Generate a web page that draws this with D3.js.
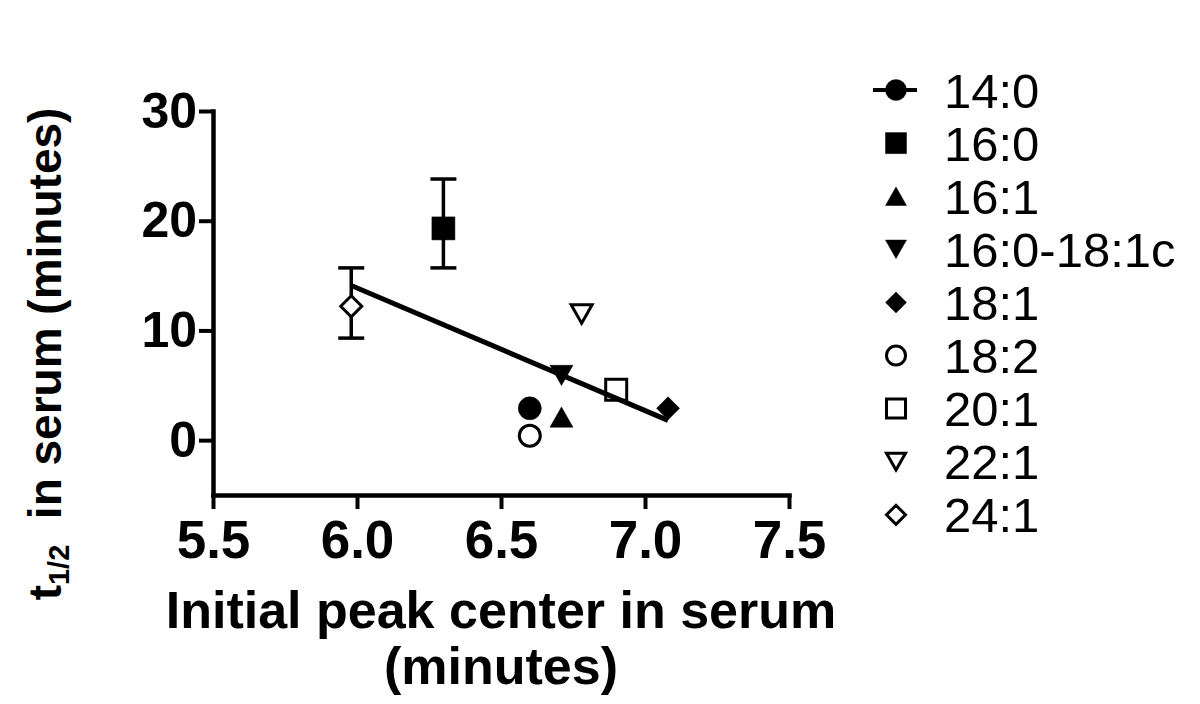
<!DOCTYPE html>
<html>
<head>
<meta charset="utf-8">
<script src="https://cdn.jsdelivr.net/npm/d3@7"></script>
<style>
  body { margin: 0; background: #fff; }
  svg { font-family: "Liberation Sans", Arial, Helvetica, sans-serif; }
</style>
</head>
<body>
<svg id="chart" width="1200" height="704"></svg>
<script>
// values
const lipids = ['14:0', '16:0', '16:1', '16:0-18:1c', '18:1', '18:2', '20:1', '22:1', '24:1'];
const peakCenter = [6.60, 6.30, 6.71, 6.71, 7.08, 6.60, 6.90, 6.78, 5.98];
const halfLife = [2.9, 19.3, 2.1, 5.9, 2.9, 0.4, 4.6, 11.5, 12.2];
const errLow = [null, 15.7, null, null, null, null, null, null, 9.3];
const errHigh = [null, 23.8, null, null, null, null, null, null, 15.7];
const shapes = ['circle', 'square', 'triangle', 'triangleDown', 'diamond', 'circle', 'square', 'triangleDown', 'diamond'];
const filled = [true, true, true, true, true, false, false, false, false];

// linear fit drawn in the figure (end points)
const fitX = [5.98, 7.08];
const fitY = [14.1, 1.8];

const xTicks = [5.5, 6.0, 6.5, 7.0, 7.5];
const yTicks = [0, 10, 20, 30];

const svg = d3.select('#chart');

const x = d3.scaleLinear().domain([5.5, 7.5]).range([213, 789]);
const y = d3.scaleLinear().domain([-5, 30]).range([495, 111]);

// marker outline, centred on 0,0
function markerPath(shape, s) {
  const h = s / 2;
  if (shape === 'circle') {
    return `M${h},0A${h},${h} 0 1,1 ${-h},0A${h},${h} 0 1,1 ${h},0Z`;
  }
  if (shape === 'square') {
    return `M${-h},${-h}H${h}V${h}H${-h}Z`;
  }
  if (shape === 'triangle') {
    const t = s * 0.44;
    return `M0,${-t}L${h},${t}L${-h},${t}Z`;
  }
  if (shape === 'triangleDown') {
    const t = s * 0.44;
    return `M0,${t}L${h},${-t}L${-h},${-t}Z`;
  }
  // diamond
  return `M0,${-h}L${h},0L0,${h}L${-h},0Z`;
}

// axes
const xAxis = svg.append('g')
  .attr('transform', `translate(0,${y(-5)})`)
  .call(d3.axisBottom(x).tickValues(xTicks).tickFormat(d3.format('.1f'))
    .tickSize(14).tickSizeOuter(0).tickPadding(11));

const yAxis = svg.append('g')
  .attr('transform', `translate(${x(5.5)},0)`)
  .call(d3.axisLeft(y).tickValues(yTicks).tickFormat(d3.format('d'))
    .tickSize(14).tickSizeOuter(0).tickPadding(2));

[xAxis, yAxis].forEach(a => {
  a.select('.domain').attr('stroke', '#000').attr('stroke-width', 4.5).attr('stroke-linecap', 'square');
  a.selectAll('.tick line').attr('stroke', '#000').attr('stroke-width', 4);
  a.selectAll('.tick text').attr('fill', '#000').style('font-weight', 'bold');
});
xAxis.selectAll('.tick text').style('font-size', '53px');
yAxis.selectAll('.tick text').style('font-size', '50px');

// axis titles
svg.append('text')
  .attr('x', 501).attr('y', 628)
  .attr('text-anchor', 'middle')
  .style('font-size', '52px').style('font-weight', 'bold')
  .text('Initial peak center in serum');
svg.append('text')
  .attr('x', 501).attr('y', 684)
  .attr('text-anchor', 'middle')
  .style('font-size', '52px').style('font-weight', 'bold')
  .text('(minutes)');

const yTitle = svg.append('text')
  .attr('transform', 'translate(61,354) rotate(-90)')
  .attr('text-anchor', 'middle')
  .style('font-size', '46px').style('font-weight', 'bold');
yTitle.append('tspan').text('t');
yTitle.append('tspan').attr('dy', 8).style('font-size', '29px').text('1/2');
yTitle.append('tspan').attr('dy', -8).text('\u00a0 in serum (minutes)');

// error bars
const idx = d3.range(lipids.length);
const withErr = idx.filter(i => errLow[i] !== null);
const capW = 26;

const err = svg.append('g').attr('stroke', '#000').attr('stroke-width', 3.5);
withErr.forEach(i => {
  const cx = x(peakCenter[i]);
  err.append('line')
    .attr('x1', cx).attr('x2', cx)
    .attr('y1', y(errLow[i])).attr('y2', y(errHigh[i]));
  [errLow[i], errHigh[i]].forEach(v => {
    err.append('line')
      .attr('x1', cx - capW / 2).attr('x2', cx + capW / 2)
      .attr('y1', y(v)).attr('y2', y(v));
  });
});

// points
svg.append('g')
  .selectAll('path')
  .data(idx)
  .enter().append('path')
  .attr('transform', i => `translate(${x(peakCenter[i])},${y(halfLife[i])})`)
  .attr('d', i => markerPath(shapes[i], filled[i] ? 23 : 21))
  .attr('fill', i => filled[i] ? '#000' : '#fff')
  .attr('stroke', '#000')
  .attr('stroke-width', i => filled[i] ? 0.5 : 3);

// fit line
svg.append('line')
  .attr('x1', x(fitX[0])).attr('y1', y(fitY[0]))
  .attr('x2', x(fitX[1])).attr('y2', y(fitY[1]))
  .attr('stroke', '#000')
  .attr('stroke-width', 5);

// legend
const legend = svg.append('g').attr('transform', 'translate(896,90)');
const rowH = 53.1;

legend.append('line')
  .attr('x1', -23).attr('x2', 21)
  .attr('y1', 0).attr('y2', 0)
  .attr('stroke', '#000').attr('stroke-width', 4);

const rows = legend.selectAll('.row')
  .data(idx)
  .enter().append('g')
  .attr('class', 'row')
  .attr('transform', i => `translate(0,${i * rowH})`);

rows.append('path')
  .attr('d', i => markerPath(shapes[i], filled[i] ? 21 : 19))
  .attr('fill', i => filled[i] ? '#000' : '#fff')
  .attr('stroke', '#000')
  .attr('stroke-width', i => filled[i] ? 0.5 : 3);

rows.append('text')
  .attr('x', 48)
  .attr('dy', '0.36em')
  .style('font-size', '49px')
  .text(i => lipids[i]);
</script>
</body>
</html>
